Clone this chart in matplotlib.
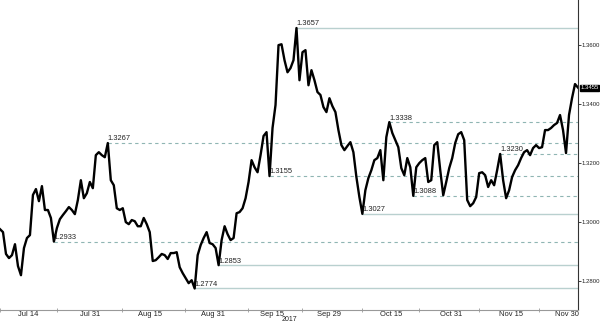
import numpy as np
import matplotlib.pyplot as plt
from matplotlib.transforms import blended_transform_factory

plt.rcParams['font.family'] = ['Liberation Sans Narrow', 'Liberation Sans', 'DejaVu Sans']

# GBP/USD, evenly spaced samples Jul -> early Dec 2017
price = [
    1.2975, 1.2965, 1.2891, 1.2877, 1.2887, 1.2924, 1.2850, 1.2819, 1.2911, 1.2945,
    1.2955, 1.3091, 1.3111, 1.3070, 1.3121, 1.3040, 1.3040, 1.3013, 1.2933, 1.2979,
    1.3009, 1.3023, 1.3036, 1.3050, 1.3040, 1.3026, 1.3074, 1.3141, 1.3080, 1.3097,
    1.3135, 1.3114, 1.3226, 1.3236, 1.3226, 1.3219, 1.3267, 1.3141, 1.3124, 1.3046,
    1.3040, 1.3046, 1.2999, 1.2992, 1.3006, 1.3002, 1.2985, 1.2985, 1.3013, 1.2992,
    1.2965, 1.2867, 1.2870, 1.2880, 1.2891, 1.2887, 1.2874, 1.2894, 1.2894, 1.2897,
    1.2846, 1.2826, 1.2809, 1.2792, 1.2802, 1.2774, 1.2887, 1.2921, 1.2945, 1.2965,
    1.2928, 1.2924, 1.2911, 1.2853, 1.2938, 1.2985, 1.2958, 1.2938, 1.2945, 1.3029,
    1.3033, 1.3046, 1.3080, 1.3135, 1.3209, 1.3185, 1.3168, 1.3226, 1.3291, 1.3304,
    1.3155, 1.3318, 1.3396, 1.3599, 1.3602, 1.3548, 1.3507, 1.3521, 1.3548, 1.3657,
    1.3480, 1.3575, 1.3582, 1.3463, 1.3514, 1.3480, 1.3440, 1.3430, 1.3389, 1.3372,
    1.3419, 1.3392, 1.3372, 1.3311, 1.3260, 1.3243, 1.3257, 1.3270, 1.3236, 1.3152,
    1.3084, 1.3027, 1.3107, 1.3148, 1.3175, 1.3209, 1.3216, 1.3243, 1.3141, 1.3287,
    1.3338, 1.3301, 1.3277, 1.3253, 1.3182, 1.3158, 1.3216, 1.3185, 1.3088, 1.3185,
    1.3199, 1.3209, 1.3216, 1.3135, 1.3141, 1.3260, 1.3270, 1.3175, 1.3090, 1.3135,
    1.3182, 1.3216, 1.3267, 1.3297, 1.3304, 1.3277, 1.3074, 1.3053, 1.3063, 1.3084,
    1.3165, 1.3168, 1.3158, 1.3118, 1.3141, 1.3124, 1.3175, 1.3230, 1.3141, 1.3080,
    1.3107, 1.3152, 1.3175, 1.3192, 1.3216, 1.3236, 1.3243, 1.3226, 1.3250, 1.3260,
    1.3250, 1.3253, 1.3311, 1.3311, 1.3318, 1.3328, 1.3335, 1.3362, 1.3311, 1.3233,
    1.3362, 1.3419, 1.3467, 1.3455,
]

level_values = [1.3657, 1.3338, 1.3267, 1.3230, 1.3155, 1.3088, 1.3027, 1.2933, 1.2853, 1.2774]
level_start = [99, 130, 36, 167, 90, 138, 121, 18, 73, 65]
level_solid = [True, False, False, False, False, False, True, False, True, True]

date_labels = ["Jul 14", "Jul 31", "Aug 15", "Aug 31", "Sep 15",
               "Sep 29", "Oct 15", "Oct 31", "Nov 15", "Nov 30"]
date_pos = [9.3, 30, 50, 71, 90.7, 110, 130.7, 150.7, 170.7, 189.3]
period_edges = [0, 19, 40.7, 61.7, 82.7, 101, 121, 140, 160, 180]
y_ticks = [1.28, 1.30, 1.32, 1.34, 1.36]
last_price = price[-1]

fs = 5.4       # labels with room around them
fs_axis = 4.3  # right-hand price scale, squeezed into the margin

fig = plt.figure(figsize=(6, 3.23), dpi=100)
ax = fig.add_axes([0, 13 / 323, 578 / 600, 310 / 323])

x = np.arange(len(price))

# support / resistance levels
for lv, st, solid in zip(level_values, level_start, level_solid):
    if solid:
        ax.plot([st, len(price) - 1], [lv, lv], color='#b9d0cf', lw=1.0, zorder=1)
    else:
        ax.plot([st, len(price) - 1], [lv, lv], color='#8fb5b3', lw=0.8,
                dashes=(3, 3), zorder=1)
    ax.text(st, lv + 0.0002, f"{lv:.4f}", fontsize=fs, ha='left', va='bottom',
            color='#222222', zorder=3)

ax.plot(x, price, color='black', lw=1.7, zorder=2)

ax.set_xlim(0, len(price) - 1)
ax.set_ylim(1.2701, 1.3752)

for s in ['top', 'left']:
    ax.spines[s].set_visible(False)
ax.spines['bottom'].set_color('#999999')
ax.spines['bottom'].set_linewidth(0.8)
ax.spines['right'].set_color('#333333')
ax.spines['right'].set_linewidth(0.8)

ax.set_xticks(date_pos)
ax.set_xticklabels(date_labels)
ax.set_xticks(period_edges, minor=True)
ax.tick_params(axis='x', which='major', length=0, pad=0.8, labelsize=fs, colors='#222222')
ax.tick_params(axis='x', which='minor', length=3, direction='inout', color='#999999')

ax.yaxis.tick_right()
ax.set_yticks(y_ticks)
ax.set_yticklabels([f"{v:.4f}" for v in y_ticks])
ax.tick_params(axis='y', length=1.8, width=0.6, pad=0.6, labelsize=fs_axis, colors='#222222')

# year under Sep 15
trans = blended_transform_factory(ax.transData, fig.transFigure)
fig.text(96.5, 0.005, "2017", transform=trans, fontsize=fs - 0.4, ha='center',
         va='baseline', color='#222222')

# last price tag
trans_y = blended_transform_factory(ax.transAxes, ax.transData)
ax.text(1.004, last_price, f"{last_price:.4f}", transform=trans_y, fontsize=fs_axis,
        color='white', ha='left', va='center',
        bbox=dict(boxstyle='square,pad=0.1', fc='black', ec='black'))

fig.savefig('out.png', dpi=100)
